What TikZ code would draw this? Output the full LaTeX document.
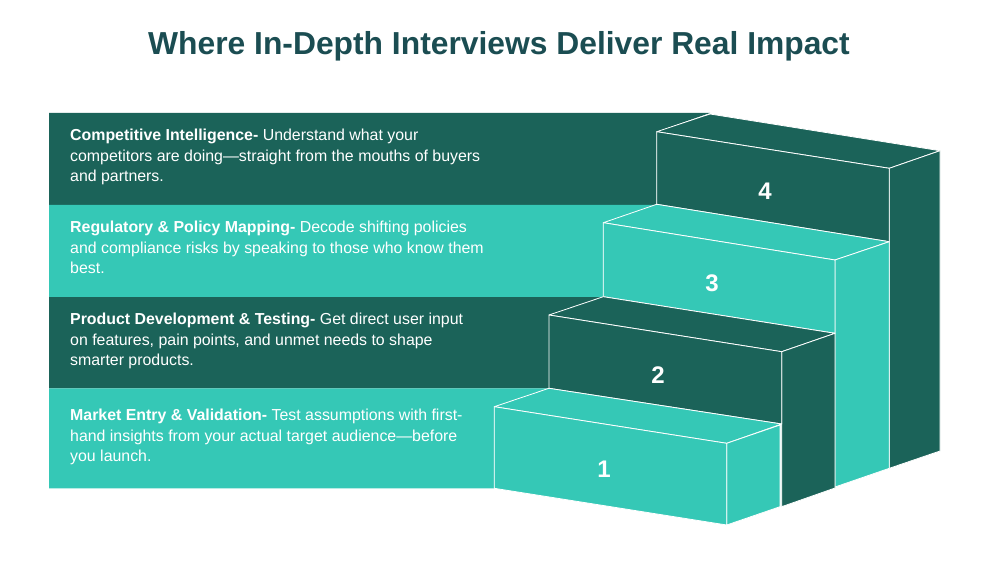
\documentclass[tikz,border=0pt]{standalone}
\usepackage{fontspec}
\setmainfont{Liberation Sans}
\definecolor{dk}{HTML}{1B6359}
\definecolor{lt}{HTML}{35C8B6}
\definecolor{ttl}{HTML}{1B4D52}
\begin{document}
\begin{tikzpicture}[x=1pt,y=-1pt,
  edge/.style={draw=white,line width=0.8pt,line join=round},
  txt/.style={anchor=north west,text=white,font=\fontsize{15.9}{20.6}\selectfont,align=left,inner sep=0pt},
  num/.style={text=white,font=\bfseries\fontsize{24}{24}\selectfont}]
\useasboundingbox (0,0) rectangle (1005,567);
\node[text=ttl,font=\bfseries\fontsize{31.8}{32}\selectfont] (title) at (499,46) {Where In-Depth Interviews Deliver Real Impact};
% bands
\fill[dk] (49,113)--(710,113)--(656.7,131.7)--(656.7,205)--(49,205)--cycle;
\fill[lt] (49,205)--(656.7,205)--(603.3,222.7)--(603.3,297)--(49,297)--cycle;
\fill[dk] (49,297)--(603.3,297)--(549,315)--(549,388.3)--(49,388.3)--cycle;
\fill[lt] (49,388.3)--(549,388.3)--(494.3,406.7)--(494.3,488.3)--(49,488.3)--cycle;
% step 4
\filldraw[edge,fill=dk] (656.7,131.7)--(710,114)--(940,150.7)--(889.3,168.3)--cycle;
\filldraw[edge,fill=dk] (889.3,168.3)--(940,150.7)--(940,451)--(889.3,468.3)--cycle;
\filldraw[edge,fill=dk] (656.7,131.7)--(889.3,168.3)--(889.3,241.7)--(656.7,204.3)--cycle;
% step 3
\filldraw[edge,fill=lt] (603.3,222.7)--(656.7,204.3)--(889.3,241.7)--(835,260)--cycle;
\filldraw[edge,fill=lt] (835,260)--(889.3,241.7)--(889.3,468.3)--(835,487)--cycle;
\filldraw[edge,fill=lt] (603.3,222.7)--(835,260)--(835,333.3)--(603.3,296.7)--cycle;
% step 2
\filldraw[edge,fill=dk] (549,315)--(603.3,296.7)--(835,333.3)--(781.7,351.7)--cycle;
\filldraw[edge,fill=dk] (781.7,351.7)--(835,333.3)--(835,488)--(781.7,506.7)--cycle;
\filldraw[edge,fill=dk] (549,315)--(781.7,351.7)--(781.7,424)--(549,388.3)--cycle;
% step 1
\filldraw[edge,fill=lt] (494.3,406.7)--(549,388.3)--(781.7,424)--(726.7,443.3)--cycle;
\filldraw[edge,fill=lt] (726.7,443.3)--(780,425)--(780,506.7)--(726.7,525)--cycle;
\filldraw[edge,fill=lt] (494.3,406.7)--(726.7,443.3)--(726.7,525)--(494.3,488.3)--cycle;
% numbers
\node[num] (n4) at (765,191) {4};
\node[num] (n3) at (712,283) {3};
\node[num] (n2) at (658,375) {2};
\node[num] (n1) at (604,469) {1};
% texts
\node[txt] (t4) at (70,129) {\textbf{Competitive Intelligence-} Understand what your\\competitors are doing—straight from the mouths of buyers\\and partners.};
\node[txt] (t3) at (70,221) {\textbf{Regulatory \& Policy Mapping-} Decode shifting policies\\and compliance risks by speaking to those who know them\\best.};
\node[txt] (t2) at (70,313) {\textbf{Product Development \& Testing-} Get direct user input\\on features, pain points, and unmet needs to shape\\smarter products.};
\node[txt] (t1) at (70,409) {\textbf{Market Entry \& Validation-} Test assumptions with first-\\hand insights from your actual target audience—before\\you launch.};
\end{tikzpicture}
\end{document}
